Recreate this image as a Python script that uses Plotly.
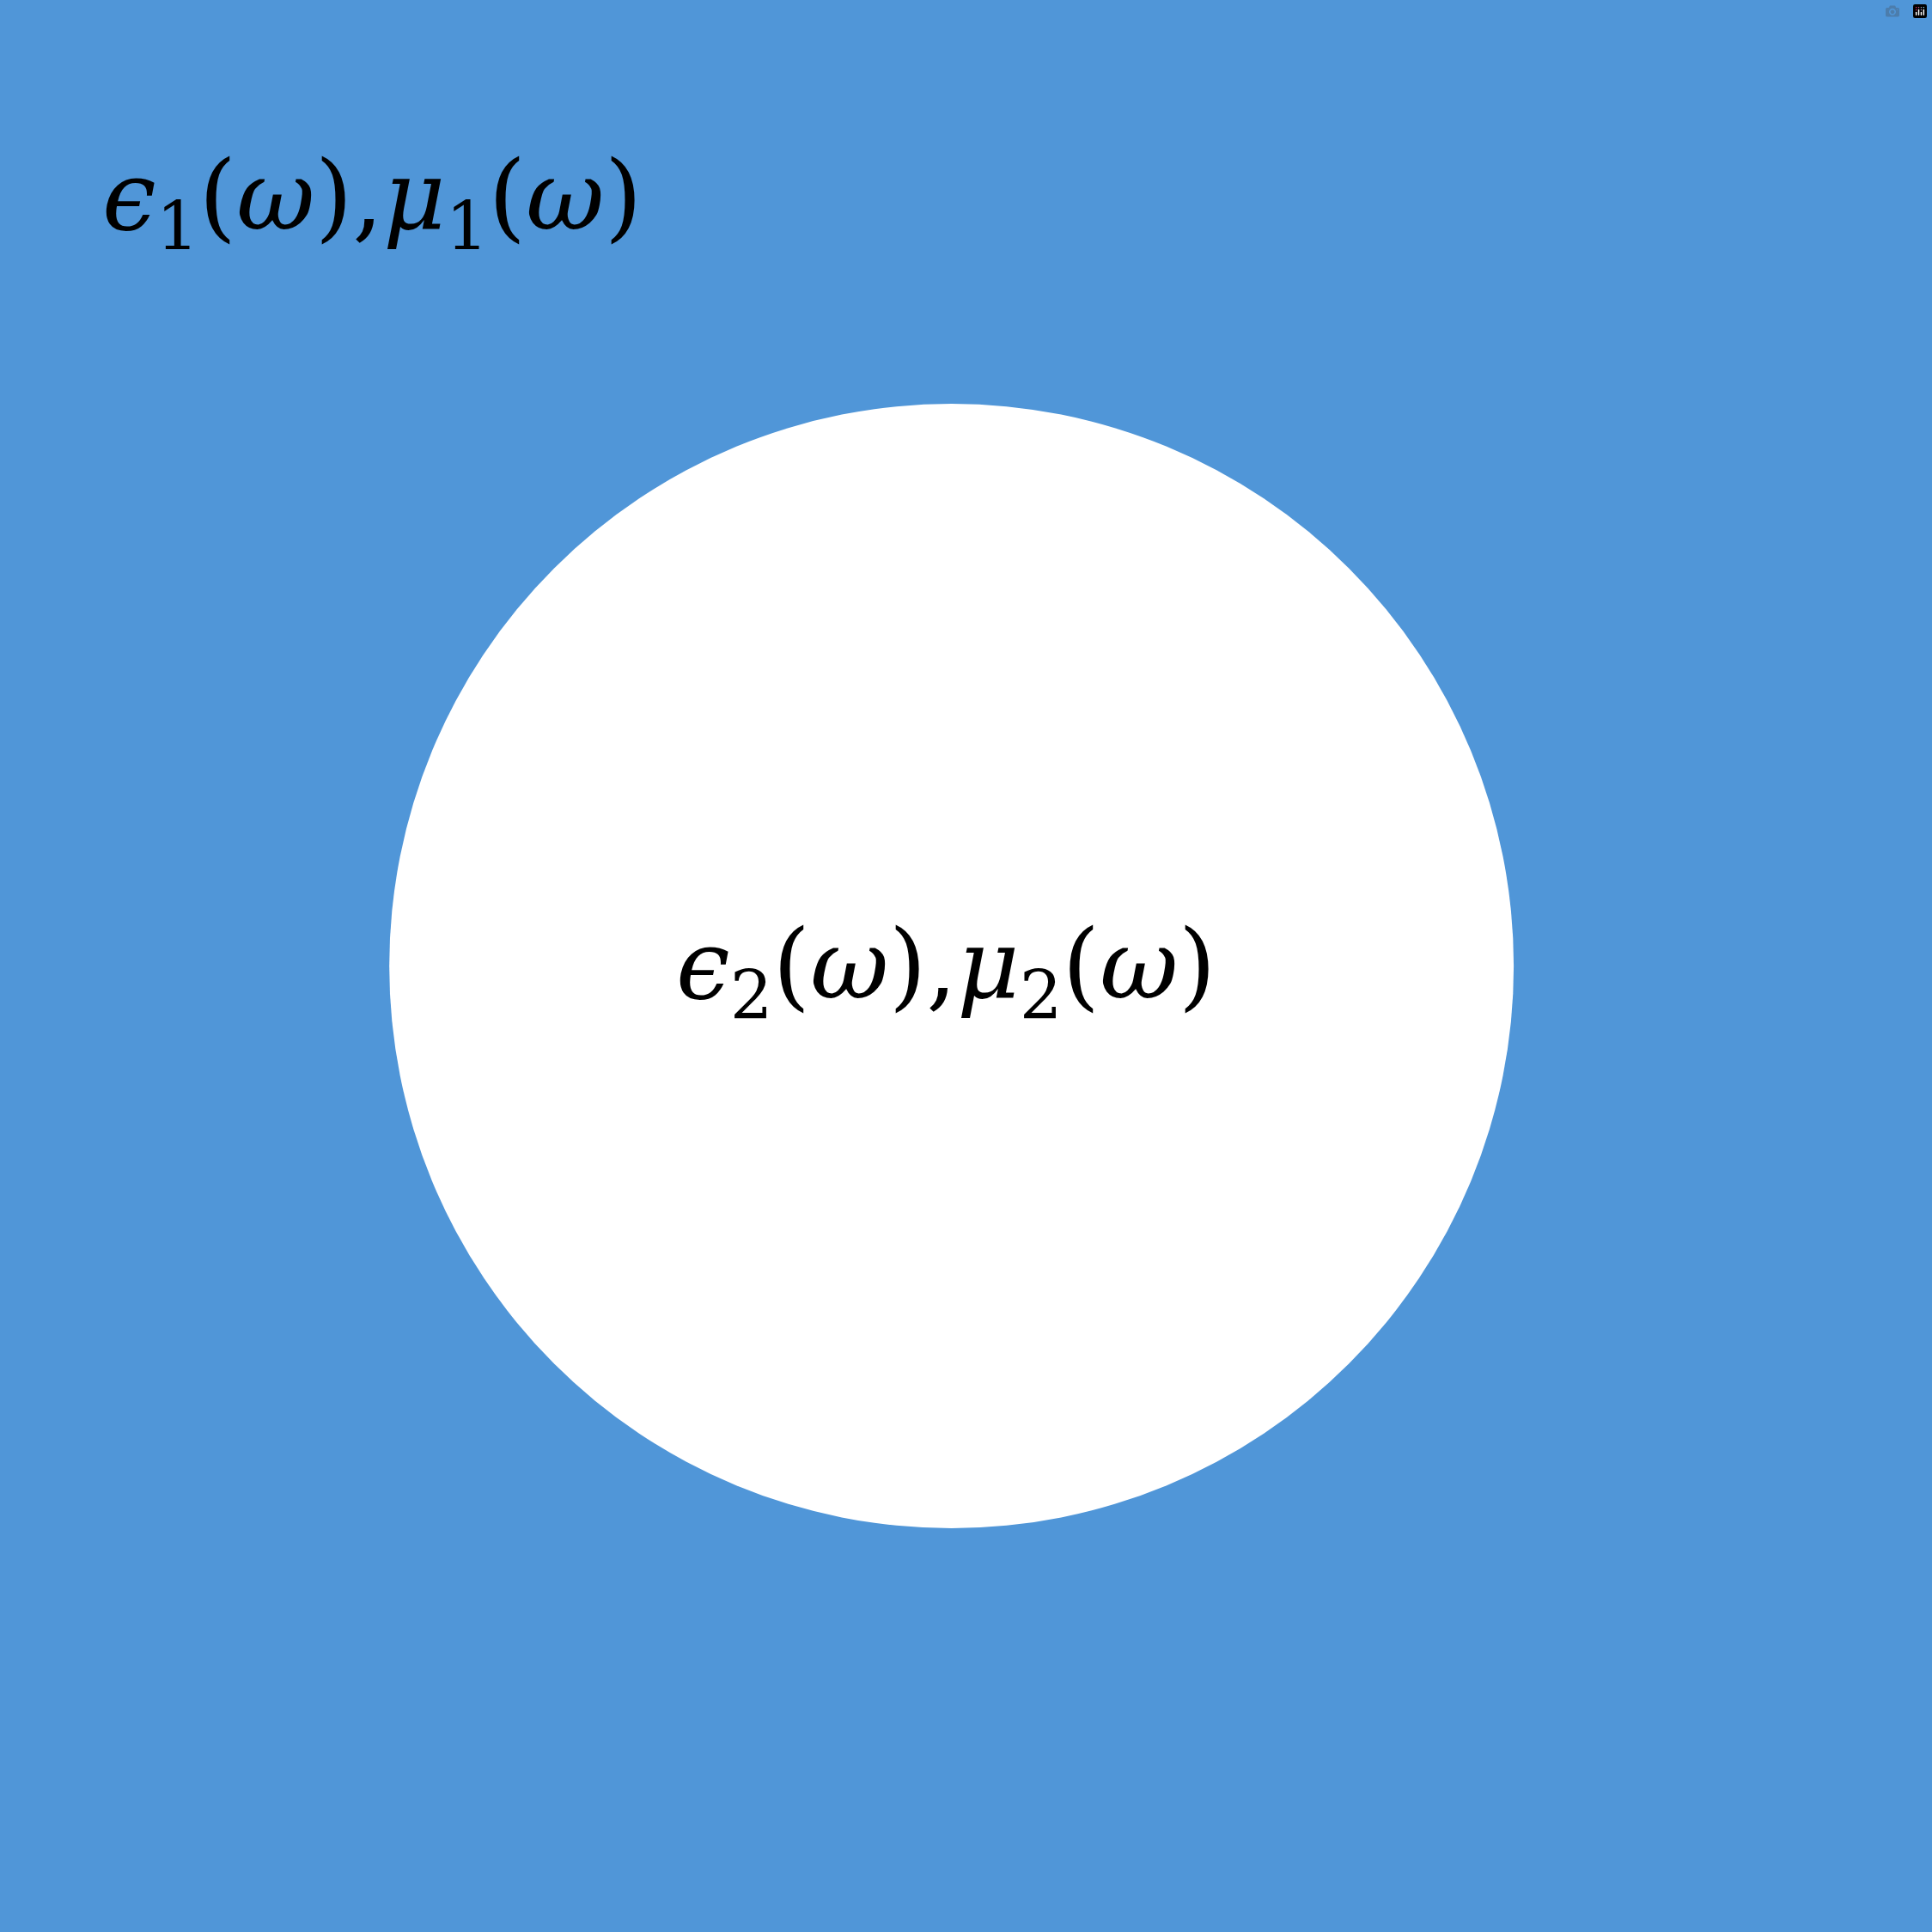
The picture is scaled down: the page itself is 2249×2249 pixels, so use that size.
import plotly.graph_objects as go

# Data
labels = ["<i>ϵ</i><sub>1</sub>(<i>ω</i>),<i>μ</i><sub>1</sub>(<i>ω</i>)",
          "<i>ϵ</i><sub>2</sub>(<i>ω</i>),<i>μ</i><sub>2</sub>(<i>ω</i>)"]
label_x = [0.052, 0.349]
label_y = [0.895, 0.497]
circle_center = (0.4925, 0.5)
circle_radius = 0.291

BLUE = "#5096D8"
fig = go.Figure()
fig.add_shape(type="circle", xref="x", yref="y",
              x0=circle_center[0]-circle_radius, x1=circle_center[0]+circle_radius,
              y0=circle_center[1]-circle_radius, y1=circle_center[1]+circle_radius,
              fillcolor="white", line=dict(width=0), layer="below")
for t, x, y in zip(labels, label_x, label_y):
    fig.add_annotation(x=x, y=y, xref="x", yref="y", text=t, showarrow=False,
                       xanchor="left", yanchor="middle",
                       font=dict(family="DejaVu Serif", size=112, color="black"))
fig.update_xaxes(range=[0, 1], visible=False, fixedrange=True)
fig.update_yaxes(range=[0, 1], visible=False, fixedrange=True)
fig.update_layout(width=2249, height=2249, margin=dict(l=0, r=0, t=0, b=0),
                  paper_bgcolor=BLUE, plot_bgcolor=BLUE, showlegend=False)
fig.write_html("out.html",
               post_script="document.body.style.margin='0';document.body.style.background='%s';" % BLUE)
